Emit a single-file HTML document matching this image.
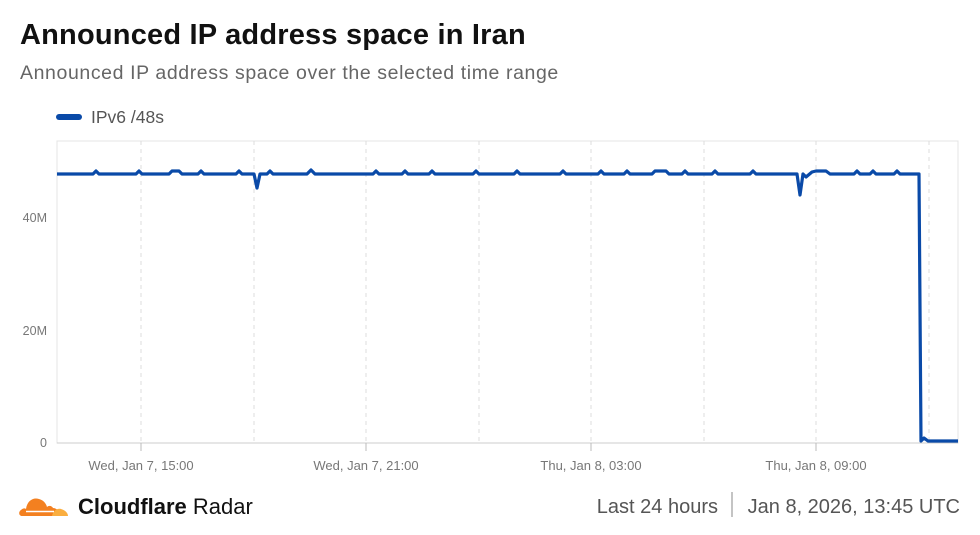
<!DOCTYPE html>
<html><head><style>
body{margin:0;width:980px;height:535px;background:#fff;font-family:"Liberation Sans",sans-serif;overflow:hidden;position:relative}
.t{position:absolute;left:20px;top:19px;font-size:29px;font-weight:bold;color:#111;letter-spacing:0.2px}
.s{position:absolute;left:20px;top:62px;font-size:19.5px;color:#666;letter-spacing:0.6px}
</style></head><body>
<div class="t">Announced IP address space in Iran</div>
<div class="s">Announced IP address space over the selected time range</div>
<svg width="980" height="535" style="position:absolute;left:0;top:0">
<line x1="59" y1="117" x2="79" y2="117" stroke="#0a4aa8" stroke-width="6" stroke-linecap="round"/>
<text x="91" y="123" font-size="17.5" fill="#555">IPv6 /48s</text>
<rect x="57" y="141" width="901" height="302" fill="none" stroke="#e4e4e4"/>
<g stroke="#ddd" stroke-dasharray="4,4">
<line x1="141" y1="141" x2="141" y2="443"/><line x1="254" y1="141" x2="254" y2="443"/>
<line x1="366" y1="141" x2="366" y2="443"/><line x1="479" y1="141" x2="479" y2="443"/>
<line x1="591" y1="141" x2="591" y2="443"/><line x1="704" y1="141" x2="704" y2="443"/>
<line x1="816" y1="141" x2="816" y2="443"/><line x1="929" y1="141" x2="929" y2="443"/>
</g>
<line x1="57" y1="443" x2="958" y2="443" stroke="#ccc"/>
<g stroke="#bbb"><line x1="141" y1="443" x2="141" y2="451"/><line x1="366" y1="443" x2="366" y2="451"/><line x1="591" y1="443" x2="591" y2="451"/><line x1="816" y1="443" x2="816" y2="451"/></g>
<g font-size="12.5" fill="#777" text-anchor="end">
<text x="47" y="222">40M</text><text x="47" y="335">20M</text><text x="47" y="447">0</text></g>
<g font-size="13" fill="#777" text-anchor="middle">
<text x="141" y="470">Wed, Jan 7, 15:00</text><text x="366" y="470">Wed, Jan 7, 21:00</text>
<text x="591" y="470">Thu, Jan 8, 03:00</text><text x="816" y="470">Thu, Jan 8, 09:00</text></g>
<polyline fill="none" stroke="#0a4aa8" stroke-width="3.2" stroke-linejoin="round" points="57,174 93,174 96,171 99,174 136,174 139,171 142,174 169,174 172,171 179,171 182,174 198,174 201,171 204,174 236,174 239,171 242,174 254,174 257,188 260,174 267,174 270,171 273,174 307,174 311,170 315,174 373,174 376,171 379,174 402,174 405,171 408,174 429,174 432,171 435,174 473,174 476,171 479,174 514,174 517,171 520,174 560,174 563,171 566,174 598,174 601,171 604,174 624,174 627,171 630,174 652,174 655,171 666,171 669,174 682,174 685,171 688,174 712,174 715,171 718,174 750,174 753,171 756,174 797,174 800,195 803,174 806,177 812,172 816,171 826,171 830,174 854,174 857,171 860,174 870,174 873,171 876,174 894,174 897,171 900,174 919,174 921,441 924,438 928,441 958,441"/>
<g>
<path d="M22 516 C19 516 18 512 21 510 C23 508 25 508 26 509 C27 501 33 497 39 499 C43 500 46 503 47 507 C49 505 52 506 53 508 C57 508 60 512 62 516 Z" fill="#f38020"/>
<path d="M52 516 C53 511 57 508 61 509 C65 510 68 513 68 516 Z" fill="#faae40"/>
<line x1="26" y1="511.5" x2="54" y2="511.5" stroke="#fff" stroke-width="1.5"/>
</g>
<text x="78" y="514" font-size="22" fill="#111"><tspan font-weight="bold">Cloudflare</tspan> Radar</text>
<text x="718" y="513" font-size="20" fill="#555" text-anchor="end">Last 24 hours</text>
<line x1="732" y1="492" x2="732" y2="517" stroke="#888"/>
<text x="960" y="513" font-size="20" fill="#555" text-anchor="end">Jan 8, 2026, 13:45 UTC</text>
</svg>
</body></html>
